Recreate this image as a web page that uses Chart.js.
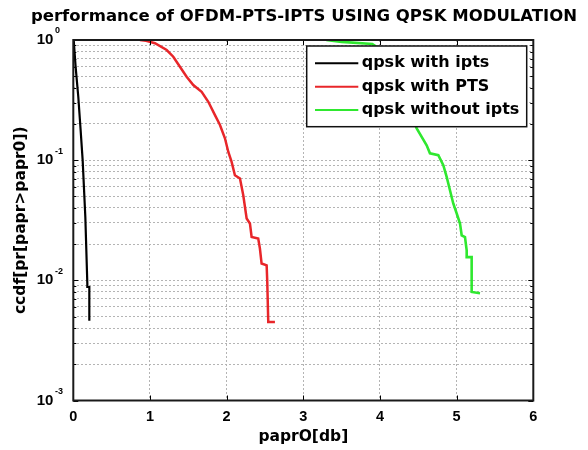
<!DOCTYPE html>
<html>
<head>
<meta charset="utf-8">
<script src="https://cdn.jsdelivr.net/npm/chart.js@4.4.1/dist/chart.umd.min.js"></script>
<style>
html,body{margin:0;padding:0;background:#fff;}
#wrap{width:588px;height:450px;position:relative;}
</style>
</head>
<body>
<div id="wrap"><canvas id="c" width="588" height="450"></canvas></div>
<script>
// ---- text ----
const titleText = 'performance of OFDM-PTS-IPTS USING QPSK MODULATION';
const xTitle = 'paprO[db]';
const yTitle = 'ccdf[pr[papr>papr0])';
const seriesNames = ['qpsk with ipts', 'qpsk with PTS', 'qpsk without ipts'];

// ---- ticks ----
const xTickValues = [0, 1, 2, 3, 4, 5, 6];
const yMajorValues = [0.001, 0.01, 0.1, 1];
const yMajorBase = ['10', '10', '10', '10'];
const yMajorExp = ['-3', '-2', '-1', '0'];
const yMinorValues = [0.002, 0.003, 0.004, 0.005, 0.006, 0.007, 0.008, 0.009,
                      0.02, 0.03, 0.04, 0.05, 0.06, 0.07, 0.08, 0.09,
                      0.2, 0.3, 0.4, 0.5, 0.6, 0.7, 0.8, 0.9];

// ---- series: qpsk with ipts (black) ----
const iptsPapr = [0.005, 0.03, 0.065, 0.095, 0.122, 0.157, 0.183, 0.183, 0.209, 0.209];
const iptsCcdf = [1.0, 0.6, 0.337, 0.18, 0.1, 0.0337, 0.0094, 0.0088, 0.0088, 0.0046];

// ---- series: qpsk with PTS (red) ----
const ptsPapr = [0.87, 0.95, 1.065, 1.218, 1.304, 1.391, 1.478, 1.565, 1.674, 1.761, 1.848, 1.913,
                 1.978, 2.022, 2.065, 2.108, 2.174, 2.217, 2.261, 2.304, 2.326, 2.412, 2.434, 2.456,
                 2.522, 2.530, 2.543, 2.630];
const ptsCcdf = [1.0, 0.985, 0.939, 0.825, 0.726, 0.599, 0.495, 0.422, 0.371, 0.306, 0.237, 0.196,
                 0.152, 0.117, 0.0968, 0.075, 0.0704, 0.051, 0.0327, 0.0297, 0.023, 0.0223, 0.0184, 0.0138,
                 0.0133, 0.0097, 0.0045, 0.0045];

// ---- series: qpsk without ipts (green) ----
const origPapr = [3.3, 3.5, 3.9, 4.05, 4.15, 4.25, 4.35, 4.42, 4.479, 4.544, 4.609, 4.652, 4.761,
                  4.826, 4.870, 4.913, 4.956, 5.001, 5.044, 5.066, 5.109, 5.131, 5.131, 5.196, 5.196, 5.305];
const origCcdf = [1.0, 0.965, 0.925, 0.8, 0.65, 0.48, 0.32, 0.23, 0.184, 0.156, 0.133, 0.114, 0.110,
                  0.0908, 0.0726, 0.0562, 0.0436, 0.036, 0.0297, 0.0237, 0.0229, 0.0178, 0.0156, 0.0156, 0.008, 0.0078];

const seriesColors = ['#000000', '#e8262a', '#2fe82f'];

function pairs(xs, ys) { return xs.map((v, i) => ({x: v, y: ys[i]})); }

const framePlugin = {
  id: 'matlabFrame',
  afterDatasetsDraw(chart) {
    const {ctx, chartArea: a, scales: {x, y}} = chart;
    ctx.save();
    // inward tick marks
    ctx.strokeStyle = '#000';
    ctx.lineWidth = 1;
    ctx.beginPath();
    x.ticks.forEach(t => {
      const px = Math.round(x.getPixelForValue(t.value)) + 0.5;
      ctx.moveTo(px, a.bottom); ctx.lineTo(px, a.bottom - 5);
      ctx.moveTo(px, a.top); ctx.lineTo(px, a.top + 5);
    });
    y.ticks.forEach(t => {
      const py = Math.round(y.getPixelForValue(t.value)) + 0.5;
      const L = t.major ? 5 : 3;
      ctx.moveTo(a.left, py); ctx.lineTo(a.left + L, py);
      ctx.moveTo(a.right, py); ctx.lineTo(a.right - L, py);
    });
    ctx.stroke();
    // box
    ctx.lineWidth = 2;
    ctx.strokeStyle = '#1a1a1a';
    ctx.strokeRect(a.left, a.top, a.right - a.left, a.bottom - a.top);

    // title
    ctx.fillStyle = '#000';
    ctx.font = 'bold 16.5px "DejaVu Sans", sans-serif';
    ctx.textAlign = 'center';
    ctx.textBaseline = 'middle';
    ctx.fillText(titleText, (a.left + a.right) / 2 + 0.7, 17);

    // y tick labels (10 with exponent)
    ctx.fillStyle = '#000';
    ctx.textBaseline = 'middle';
    ctx.textAlign = 'left';
    yMajorValues.forEach((v, i) => {
      const py = y.getPixelForValue(v);
      const bx = a.left - 36.6;
      ctx.font = 'bold 15px "Liberation Sans", Arial, sans-serif';
      ctx.fillText(yMajorBase[i], bx, py);
      const w = ctx.measureText(yMajorBase[i]).width;
      ctx.font = 'bold 9px "Liberation Sans", Arial, sans-serif';
      ctx.fillText(yMajorExp[i], bx + w + 1.5, py - 9);
    });

    // legend box
    const lx = a.right - 226.6, ly = a.top + 6, lw = 220, lh = 80.7;
    ctx.fillStyle = '#fff';
    ctx.fillRect(lx, ly, lw, lh);
    ctx.lineWidth = 1.5;
    ctx.strokeStyle = '#111';
    ctx.strokeRect(lx, ly, lw, lh);
    const rowY = [17.3, 40.7, 64];
    chart.data.datasets.forEach((ds, i) => {
      const ry = ly + rowY[i];
      ctx.strokeStyle = ds.borderColor;
      ctx.lineWidth = 2;
      ctx.beginPath();
      ctx.moveTo(lx + 8.3, ry); ctx.lineTo(lx + 51.6, ry);
      ctx.stroke();
      ctx.fillStyle = '#000';
      ctx.font = 'bold 16px "DejaVu Sans", sans-serif';
      ctx.textAlign = 'left';
      ctx.textBaseline = 'middle';
      ctx.fillText(ds.label, lx + 55, ry);
    });
    ctx.restore();
  }
};

const gridColor = '#b4b4b4';

new Chart(document.getElementById('c'), {
  type: 'line',
  data: {
    datasets: [
      {label: seriesNames[0], data: pairs(iptsPapr, iptsCcdf), borderColor: seriesColors[0], borderWidth: 2.2},
      {label: seriesNames[1], data: pairs(ptsPapr, ptsCcdf), borderColor: seriesColors[1], borderWidth: 2.5},
      {label: seriesNames[2], data: pairs(origPapr, origCcdf), borderColor: seriesColors[2], borderWidth: 2.6}
    ]
  },
  options: {
    responsive: false,
    animation: false,
    elements: {point: {radius: 0}, line: {tension: 0, fill: false}},
    layout: {padding: {left: 0, right: 54.7, top: 40, bottom: 0}},
    plugins: {
      legend: {display: false},
      tooltip: {enabled: false},
      title: {display: false}
    },
    scales: {
      x: {
        type: 'linear', min: 0, max: 6,
        afterBuildTicks: s => { s.ticks = xTickValues.map(v => ({value: v})); },
        afterFit: s => { s.height = 49.5; },
        ticks: {color: '#000', font: {family: 'Liberation Sans', weight: 'bold', size: 14.5}, padding: 7.5, maxRotation: 0, autoSkip: false},
        grid: {color: gridColor, lineWidth: 1, drawTicks: false},
        border: {display: false, dash: [2, 2]},
        title: {display: true, text: xTitle, color: '#000', font: {family: 'DejaVu Sans', weight: 'bold', size: 15.5}, padding: {top: 0, bottom: 4}}
      },
      y: {
        type: 'logarithmic', min: 0.001, max: 1,
        afterBuildTicks: s => {
          const all = yMajorValues.concat(yMinorValues).sort((p, q) => p - q);
          s.ticks = all.map(v => ({value: v, major: yMajorValues.includes(v)}));
        },
        afterFit: s => { s.width = 73.3; },
        ticks: {display: false, autoSkip: false},
        grid: {color: gridColor, lineWidth: 1, drawTicks: false},
        border: {display: false, dash: [2, 2]},
        title: {display: true, text: yTitle, color: '#000', font: {family: 'DejaVu Sans', weight: 'bold', size: 15.5}, padding: {top: 12, bottom: 0}}
      }
    }
  },
  plugins: [framePlugin]
});
</script>
</body>
</html>
